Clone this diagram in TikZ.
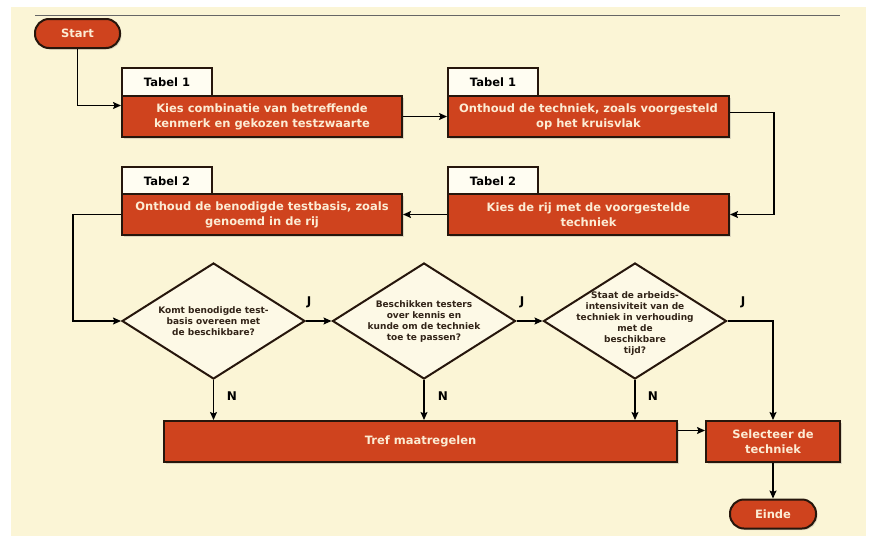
\documentclass[tikz,border=0pt]{standalone}
\usepackage{fontspec}
\setmainfont{DejaVu Sans}
\usetikzlibrary{shapes.geometric,calc,shadows,arrows.meta}

\newlength{\du}
\setlength{\du}{1pt}

\definecolor{paper}{RGB}{251,245,214}
\definecolor{boxfill}{RGB}{207,67,30}
\definecolor{boxline}{RGB}{38,22,12}
\definecolor{boxtext}{RGB}{252,236,212}
\definecolor{tabfill}{RGB}{255,253,242}
\definecolor{ruitfill}{RGB}{253,249,230}
\definecolor{ruittext}{RGB}{50,36,24}

\tikzset{
  stap/.style={rectangle, draw=boxline, fill=boxfill, line width=2\du,
    text=boxtext, font=\bfseries\fontsize{11.5}{15}\selectfont, align=center,
    minimum height=41\du, inner sep=0pt,
    drop shadow={opacity=0.25, shadow xshift=1.5\du, shadow yshift=-1.5\du}},
  tabel/.style={rectangle, draw=boxline, fill=tabfill, line width=2\du,
    text=black, font=\bfseries\fontsize{11.5}{13}\selectfont,
    minimum width=90\du, minimum height=28\du, inner sep=0pt},
  eindpunt/.style={stap, rounded corners=14\du, minimum height=29\du},
  ruit/.style={diamond, draw=boxline, fill=ruitfill, line width=2\du,
    minimum width=183\du, minimum height=116\du, inner sep=0pt},
  vraag/.style={text=ruittext, font=\bfseries\fontsize{9}{11}\selectfont,
    align=center, inner sep=0pt},
  antw/.style={text=black, font=\bfseries\fontsize{12}{14}\selectfont, inner sep=0pt},
  lijn/.style={draw=black, line width=1.4\du},
  pijl/.style={lijn, -{Stealth[length=8pt,width=7pt,inset=1.5pt]}},
}

\begin{document}
\begin{tikzpicture}[yscale=-1]
% achtergrond
\useasboundingbox (0\du,0\du) rectangle (869\du,536\du);
\fill[white] (0\du,0\du) rectangle (869\du,536\du);
\fill[paper] (11\du,7\du) rectangle (866\du,536\du);
\draw[gray!80!black, line width=1\du] (35\du,15\du) -- (840\du,15\du);

% begin en eind
\node[eindpunt, minimum width=85\du] (start) at (77.5\du,33.5\du){Start};
\node[eindpunt, minimum width=86\du] (einde) at (773\du,514\du){Einde};

% tabellen
\node[tabel] (tab1) at (167\du,82\du){Tabel 1};
\node[tabel] (tab2) at (493\du,82\du){Tabel 1};
\node[tabel] (tab3) at (167\du,181\du){Tabel 2};
\node[tabel] (tab4) at (493\du,181\du){Tabel 2};

% stappen
\node[stap, minimum width=280\du] (kies) at (262\du,116.5\du){Kies combinatie van betreffende\\kenmerk en gekozen testzwaarte};
\node[stap, minimum width=281\du] (onthoud) at (588.5\du,116.5\du){Onthoud de techniek, zoals voorgesteld\\op het kruisvlak};
\node[stap, minimum width=281\du] (kiesrij) at (588.5\du,214.5\du){Kies de rij met de voorgestelde\\techniek};
\node[stap, minimum width=280\du] (basis) at (262\du,214.5\du){Onthoud de benodigde testbasis, zoals\\genoemd in de rij};
\node[stap, minimum width=513\du] (tref) at (420.5\du,441.5\du){Tref maatregelen};
\node[stap, minimum width=134\du] (selecteer) at (773\du,441.5\du){Selecteer de\\techniek};

% beslissingen
\node[ruit] (d1) at (213.5\du,321\du){};
\node[vraag] (v1) at (213.5\du,321\du){Komt benodigde test-\\basis overeen met\\de beschikbare?};
\node[ruit] (d2) at (424\du,321\du){};
\node[vraag] (v2) at (424\du,322\du){Beschikken testers\\over kennis en\\kunde om de techniek\\toe te passen?};
\node[ruit] (d3) at (635\du,321\du){};
\node[vraag] (v3) at (635\du,324\du){Staat de arbeids-\\intensiviteit van de\\techniek in verhouding\\met de\\beschikbare\\tijd?};

% antwoorden
\node[antw] (j1) at (309\du,302\du){J};
\node[antw] (j2) at (522\du,302\du){J};
\node[antw] (j3) at (743\du,302\du){J};
\node[antw] (n1) at (232\du,396\du){N};
\node[antw] (n2) at (443\du,396\du){N};
\node[antw] (n3) at (653\du,396\du){N};

% verbindingen
\draw[pijl] (start.south) |- ($(kies.west)+(0,-11\du)$);
\draw[pijl] (kies.east) -- (onthoud.west);
\draw[pijl] ($(onthoud.east)+(0,-4\du)$) -- ++(44\du,0) |- (kiesrij.east);
\draw[pijl] (kiesrij.west) -- (basis.east);
\draw[pijl] (basis.west) -- ++(-48\du,0) |- (d1.west);
\draw[pijl] (d1.east) -- (d2.west);
\draw[pijl] (d2.east) -- (d3.west);
\draw[pijl] (d3.east) -| (selecteer.north);
\draw[pijl] (d1.south) -- (d1.south |- tref.north);
\draw[pijl] (d2.south) -- (d2.south |- tref.north);
\draw[pijl] (d3.south) -- (d3.south |- tref.north);
\draw[pijl] ($(tref.east)+(0,-11\du)$) -- ($(selecteer.west)+(0,-11\du)$);
\draw[pijl] (selecteer.south) -- (einde.north);
\end{tikzpicture}
\end{document}
